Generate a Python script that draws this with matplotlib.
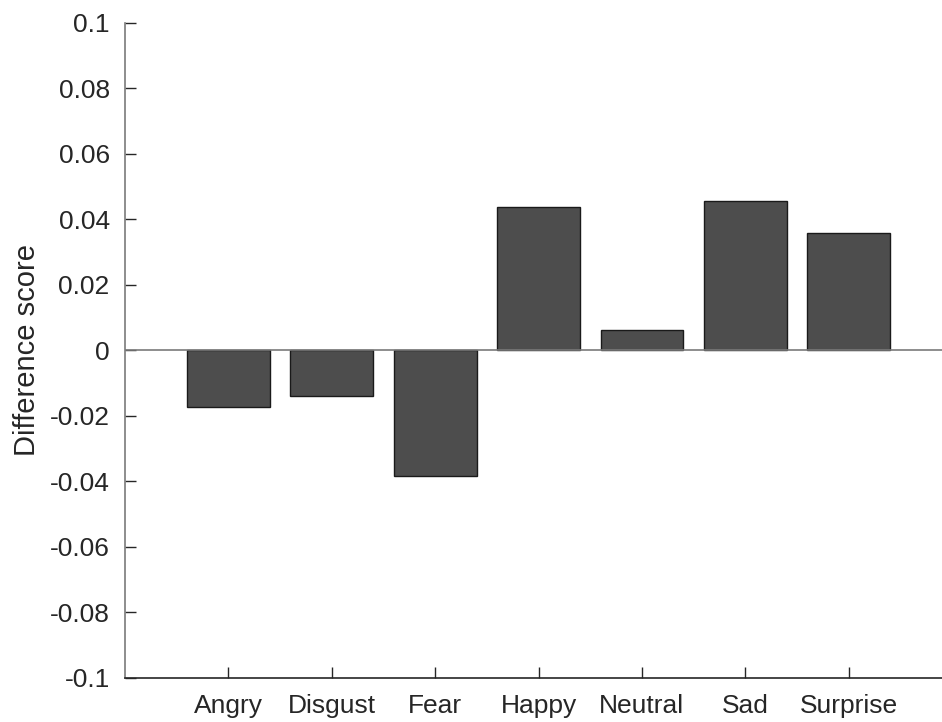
import numpy as np
import matplotlib
matplotlib.use("Agg")
import matplotlib.pyplot as plt

emotions = ["Angry", "Disgust", "Fear", "Happy", "Neutral", "Sad", "Surprise"]
diff_scores = [-0.0172, -0.0140, -0.0383, 0.0439, 0.0061, 0.0457, 0.0359]

y_ticks = [-0.1, -0.08, -0.06, -0.04, -0.02, 0, 0.02, 0.04, 0.06, 0.08, 0.1]
y_tick_labels = ["-0.1", "-0.08", "-0.06", "-0.04", "-0.02", "0",
                 "0.02", "0.04", "0.06", "0.08", "0.1"]

plt.rcParams["font.family"] = ["Liberation Sans", "DejaVu Sans"]

fig = plt.figure(figsize=(9.42, 7.22), dpi=100)
# axes run a little past the right edge, like the cropped original
ax = fig.add_axes([0.1327, 0.0614, 0.878, 0.9068])

x = np.arange(1, len(emotions) + 1)
ax.bar(x, diff_scores, width=0.8, color="#4d4d4d", edgecolor="#1a1a1a",
       linewidth=1.0, zorder=2)
ax.axhline(0, color="#7a7a7a", linewidth=1.2, zorder=3)

ax.set_xlim(0, 8)
ax.set_ylim(-0.1, 0.1)
ax.set_xticks(x)
ax.set_xticklabels(emotions, fontsize=19, color="#262626")
ax.set_yticks(y_ticks)
ax.set_yticklabels(y_tick_labels, fontsize=19, color="#262626")
ax.set_ylabel("Difference score", fontsize=21, color="#262626", labelpad=6)

for side in ["top", "right"]:
    ax.spines[side].set_visible(False)
ax.spines["left"].set_color("#7a7a7a")
ax.spines["left"].set_linewidth(1.2)
ax.spines["bottom"].set_color("#262626")
ax.spines["bottom"].set_linewidth(1.2)

ax.tick_params(axis="y", direction="in", length=8, width=1.0,
               colors="#262626", pad=11)
ax.tick_params(axis="x", direction="in", length=8, width=1.0,
               colors="#262626", pad=12)

fig.savefig("out.png", dpi=100)
